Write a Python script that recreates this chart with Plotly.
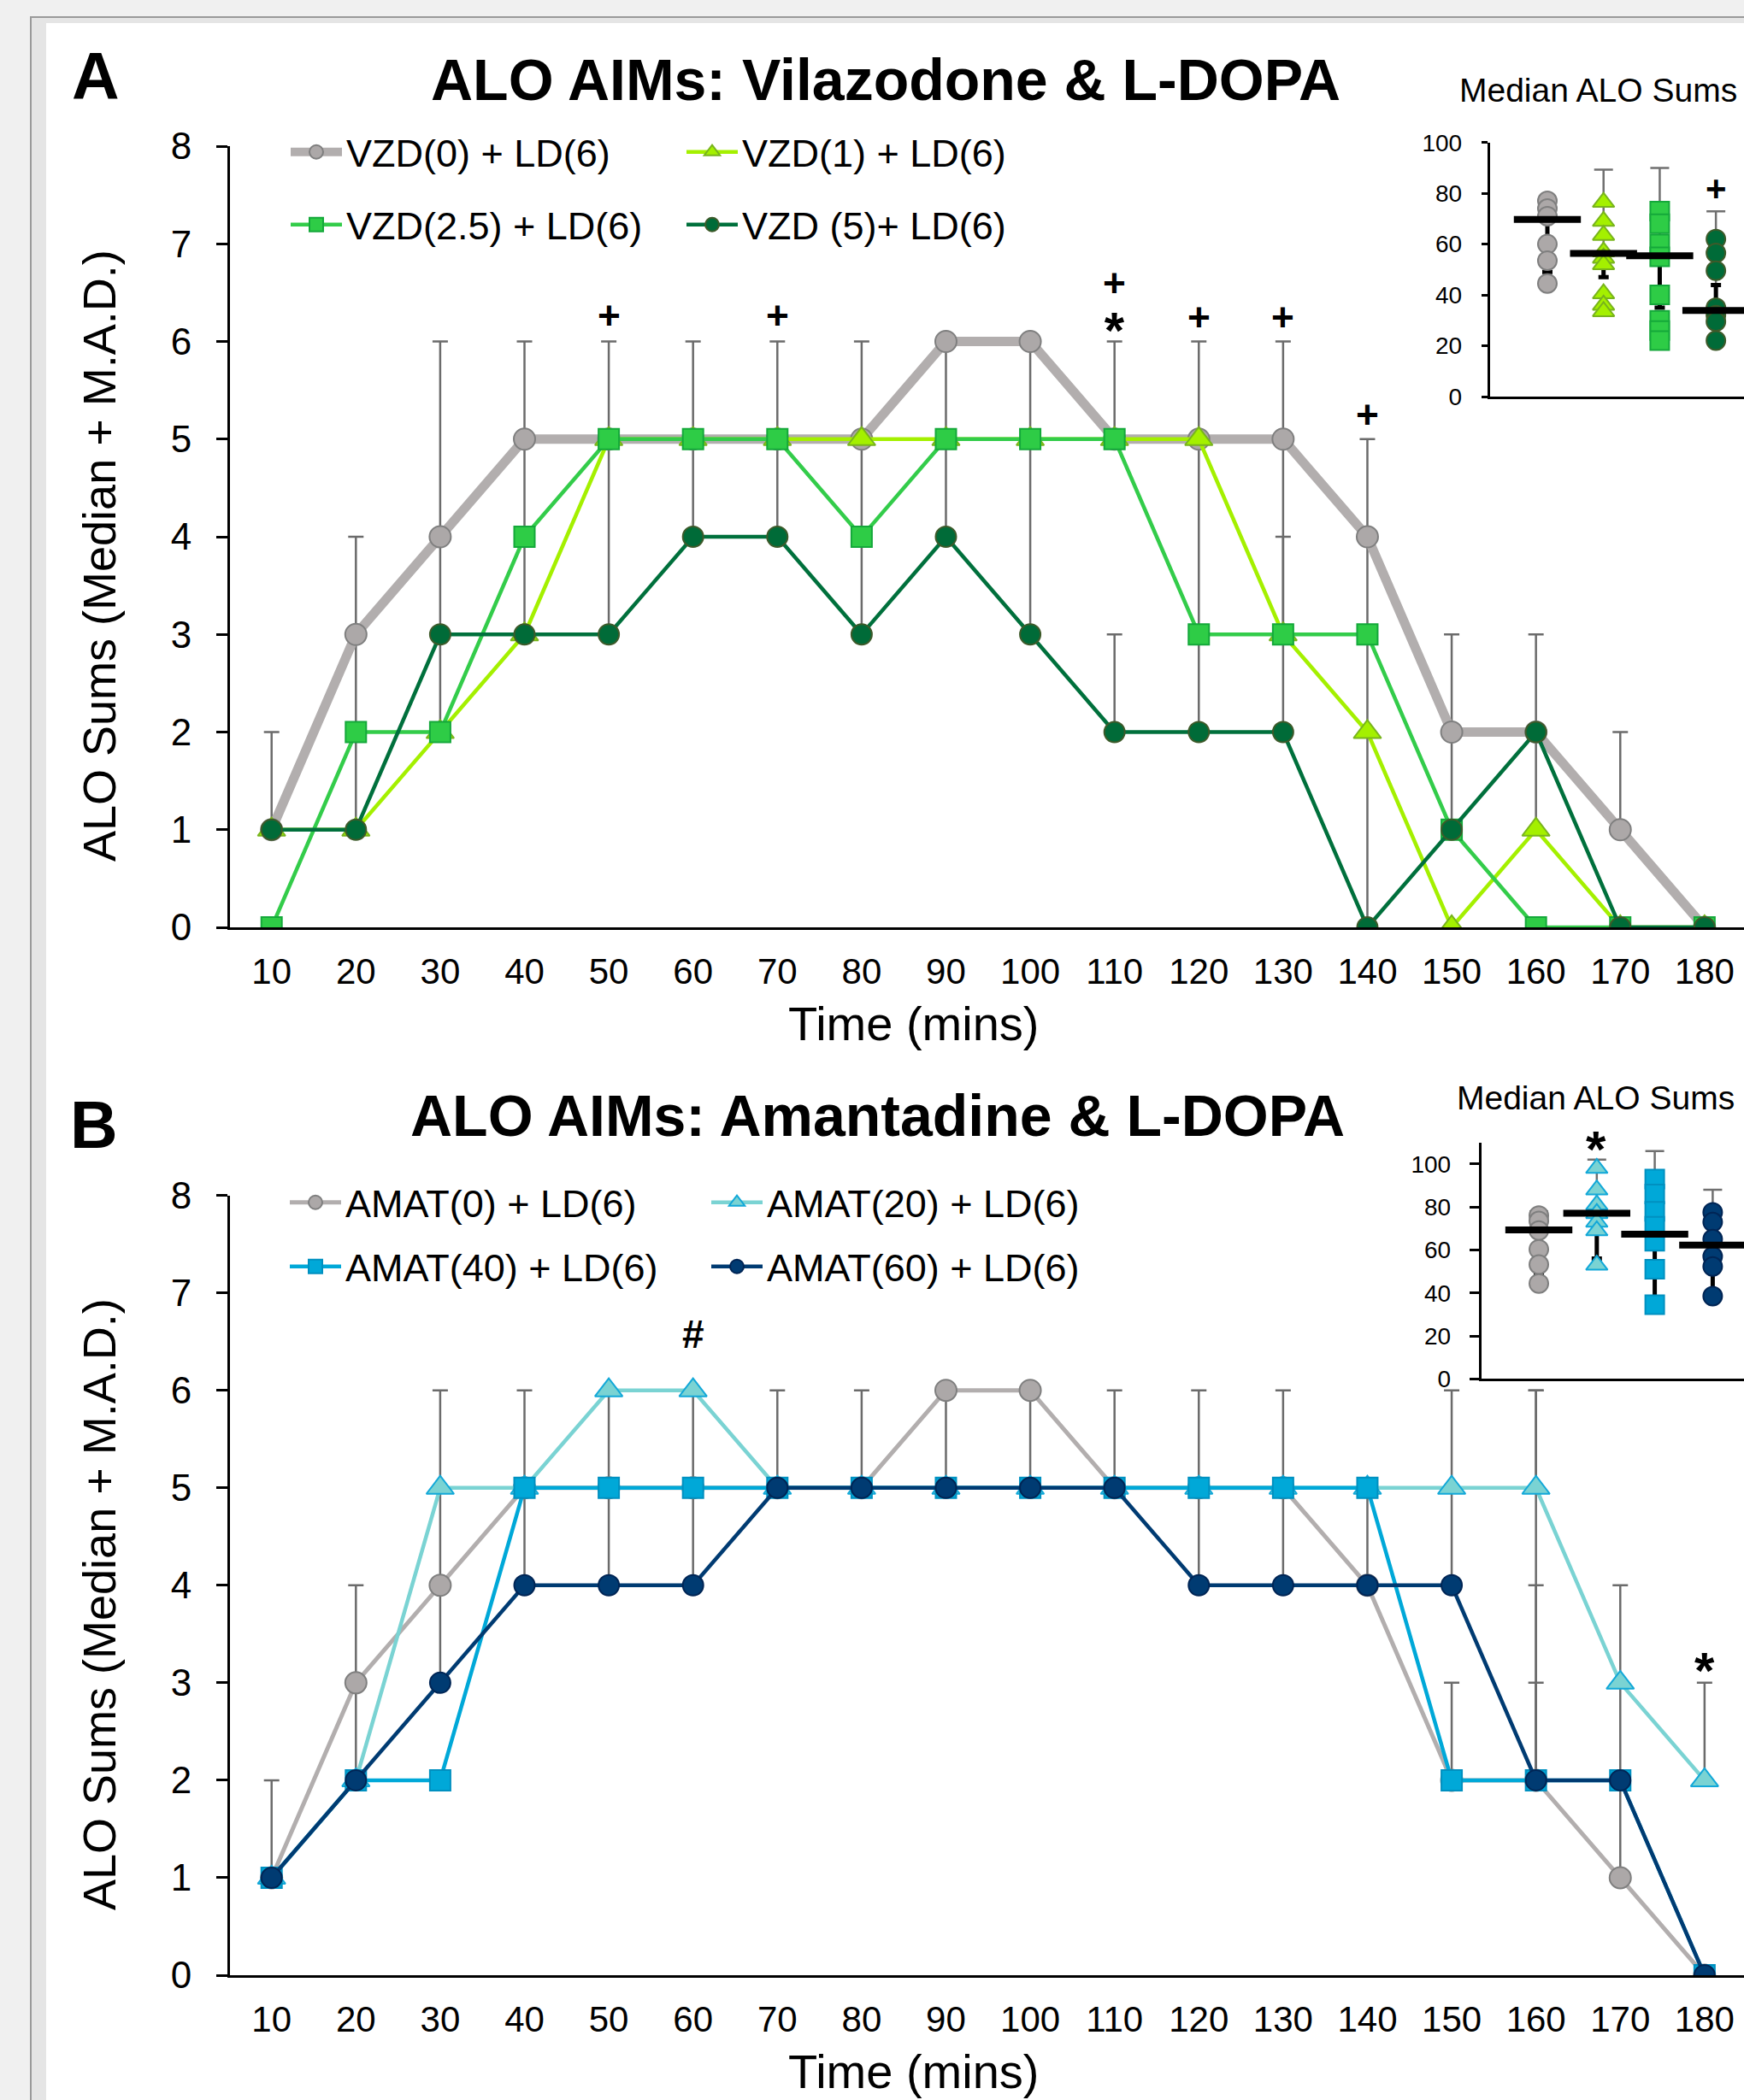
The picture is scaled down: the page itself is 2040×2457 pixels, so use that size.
import plotly.graph_objects as go

W, H = 2040, 2457
FONT = "Liberation Sans, Arial, Helvetica, sans-serif"

# ---------------- data ----------------
times = [10, 20, 30, 40, 50, 60, 70, 80, 90, 100, 110, 120, 130, 140, 150, 160, 170, 180]

vzd0 = [1, 3, 4, 5, 5, 5, 5, 5, 6, 6, 5, 5, 5, 4, 2, 2, 1, 0]
vzd1 = [1, 1, 2, 3, 5, 5, 5, 5, 5, 5, 5, 5, 3, 2, 0, 1, 0, 0]
vzd25 = [0, 2, 2, 4, 5, 5, 5, 4, 5, 5, 5, 3, 3, 3, 1, 0, 0, 0]
vzd5 = [1, 1, 3, 3, 3, 4, 4, 3, 4, 3, 2, 2, 2, 0, 1, 2, 0, 0]

vzd0_mad = [1, 0, 0, 0, 0, 0, 0, 0, 0, 0, 0, 0, 0, 0, 0, 0, 1, 0]
vzd1_mad = [0, 0, 0, 0, 0, 0, 0, 0, 0, 0, 0, 0, 1, 0, 0, 2, 0, 0]
vzd25_mad = [0, 0, 4, 0, 0, 0, 0, 0, 0, 0, 1, 0, 0, 0, 0, 0, 0, 0]
vzd5_mad = [0, 3, 0, 3, 3, 2, 2, 3, 2, 3, 1, 4, 4, 5, 2, 0, 0, 0]

amat0 = [1, 3, 4, 5, 5, 5, 5, 5, 6, 6, 5, 5, 5, 4, 2, 2, 1, 0]
amat20 = [1, 2, 5, 5, 6, 6, 5, 5, 5, 5, 5, 5, 5, 5, 5, 5, 3, 2]
amat40 = [1, 2, 2, 5, 5, 5, 5, 5, 5, 5, 5, 5, 5, 5, 2, 2, 2, 0]
amat60 = [1, 2, 3, 4, 4, 4, 5, 5, 5, 5, 5, 4, 4, 4, 4, 2, 2, 0]

amat0_mad = [1, 0, 0, 0, 0, 0, 0, 0, 0, 0, 0, 0, 0, 0, 0, 2, 3, 0]
amat20_mad = [0, 0, 0, 0, 0, 0, 0, 0, 0, 0, 0, 0, 0, 0, 0, 1, 0, 1]
amat40_mad = [0, 0, 0, 0, 0, 0, 0, 0, 0, 0, 0, 0, 0, 0, 1, 1, 0, 0]
amat60_mad = [0, 2, 3, 2, 2, 2, 1, 1, 1, 1, 1, 2, 2, 1, 2, 4, 0, 0]

vzd_names = ["VZD(0) + LD(6)", "VZD(1) + LD(6)", "VZD(2.5) + LD(6)", "VZD (5)+ LD(6)"]
amat_names = ["AMAT(0) + LD(6)", "AMAT(20) + LD(6)", "AMAT(40) + LD(6)", "AMAT(60) + LD(6)"]

# significance marks (time, label, level)
sig_a = [(50, "+", 6.27), (70, "+", 6.27), (110, "+*", 6.32),
         (120, "+", 6.25), (130, "+", 6.25), (140, "+", 5.25)]
sig_b = [(60, "#", 6.58), (180, "*", 3.25)]

# inset data (Median ALO Sums)
inset_groups = [1, 2, 3, 4]
inset_a_vzd0 = [77, 74, 71, 60, 53.5, 44.5]
inset_a_vzd1 = [76.5, 69, 63.5, 57, 54.5, 52, 40.5, 36, 33.5]
inset_a_vzd25 = [73, 68, 60, 55, 40, 30, 26, 22]
inset_a_vzd5 = [62, 56.5, 49.5, 35, 32, 29.5, 22]
inset_a_median = [69.7, 56.3, 55.4, 33.9]
inset_a_gray_up = [8.3, 33, 34.6, 39]
inset_a_black_up = [0, 0, 0, 10]
inset_a_black_down = [20.7, 9.3, 20.4, 0]

inset_b_amat0 = [76, 73.5, 69, 60.3, 53.2, 44.4]
inset_b_amat20 = [98, 88, 81, 77, 73, 69, 53]
inset_b_amat40 = [93, 86, 78, 71, 64, 51, 34.5]
inset_b_amat60 = [77.5, 73, 65, 57, 52.3, 38.5]
inset_b_median = [69.3, 77.1, 67.3, 62.3]
inset_b_gray_up = [8.7, 24.9, 38.7, 25.7]
inset_b_black_up = [0, 4, 0, 0]
inset_b_black_down = [20.3, 21.1, 32.8, 23.8]

# ---------------- styles ----------------
styles_a = [
    dict(lc="#b2aeae", lw=11, sym="circle", mc="#aca8a8", ml="#7f7f7f", ms=25),
    dict(lc="#a4f000", lw=4.5, sym="triangle-up", mc="#a4f000", ml="#78b41c", ms=28),
    dict(lc="#33cc4a", lw=4.5, sym="square", mc="#2ecc46", ml="#14a83a", ms=24),
    dict(lc="#00703c", lw=4.5, sym="circle", mc="#006b38", ml="#3d5a2a", ms=24),
]
styles_b = [
    dict(lc="#b2aeae", lw=5, sym="circle", mc="#aca8a8", ml="#7f7f7f", ms=25),
    dict(lc="#7ad3d3", lw=4.5, sym="triangle-up", mc="#7ad3d3", ml="#12a8d8", ms=28),
    dict(lc="#00a8d8", lw=4.5, sym="square", mc="#00a8d8", ml="#0090c0", ms=24),
    dict(lc="#003b72", lw=4.5, sym="circle", mc="#003b72", ml="#002555", ms=24),
]

fig = go.Figure()


def err_trace(xs, ys, up, down, xa, ya, color, thick, width):
    pts = [(x, y, u, d) for x, y, u, d in zip(xs, ys, up, down) if (u > 0 or d > 0)]
    if not pts:
        return
    fig.add_trace(go.Scatter(
        x=[p[0] for p in pts], y=[p[1] for p in pts], mode="markers",
        marker=dict(size=1, opacity=0), xaxis=xa, yaxis=ya, showlegend=False, hoverinfo="skip",
        error_y=dict(type="data", symmetric=False, array=[p[2] for p in pts],
                     arrayminus=[p[3] for p in pts], color=color, thickness=thick, width=width)))


# main panel error bars (behind lines)
for ys, mad in [(vzd0, vzd0_mad), (vzd1, vzd1_mad), (vzd25, vzd25_mad), (vzd5, vzd5_mad)]:
    err_trace(times, ys, mad, [0] * len(mad), "x", "y", "#6b6b6b", 2.5, 9)
for ys, mad in [(amat0, amat0_mad), (amat20, amat20_mad), (amat40, amat40_mad), (amat60, amat60_mad)]:
    err_trace(times, ys, mad, [0] * len(mad), "x2", "y2", "#6b6b6b", 2.5, 9)

legends_a = ["legend", "legend", "legend2", "legend2"]
legends_b = ["legend3", "legend3", "legend4", "legend4"]

for ys, name, st, lg in zip([vzd0, vzd1, vzd25, vzd5], vzd_names, styles_a, legends_a):
    fig.add_trace(go.Scatter(
        x=times, y=ys, name=name, mode="lines+markers", xaxis="x", yaxis="y", legend=lg,
        line=dict(color=st["lc"], width=st["lw"]),
        marker=dict(symbol=st["sym"], size=st["ms"], color=st["mc"], line=dict(color=st["ml"], width=2))))

for ys, name, st, lg in zip([amat0, amat20, amat40, amat60], amat_names, styles_b, legends_b):
    fig.add_trace(go.Scatter(
        x=times, y=ys, name=name, mode="lines+markers", xaxis="x2", yaxis="y2", legend=lg,
        line=dict(color=st["lc"], width=st["lw"]),
        marker=dict(symbol=st["sym"], size=st["ms"], color=st["mc"], line=dict(color=st["ml"], width=2))))


# insets
def inset(point_sets, styles, median, gray_up, black_up, black_down, xa, ya):
    err_trace(inset_groups, median, gray_up, [0] * 4, xa, ya, "#707070", 2.5, 11)
    err_trace(inset_groups, median, black_up, black_down, xa, ya, "#000000", 5, 6)
    for g, pts, st in zip(inset_groups, point_sets, styles):
        fig.add_trace(go.Scatter(
            x=[g] * len(pts), y=pts, mode="markers", xaxis=xa, yaxis=ya, showlegend=False,
            marker=dict(symbol=st["sym"], size=22, color=st["mc"], line=dict(color=st["ml"], width=2))))
    fig.add_trace(go.Scatter(
        x=inset_groups, y=median, mode="markers", xaxis=xa, yaxis=ya, showlegend=False,
        marker=dict(symbol="line-ew", size=56, color="black", line=dict(color="black", width=8))))


inset([inset_a_vzd0, inset_a_vzd1, inset_a_vzd25, inset_a_vzd5], styles_a, inset_a_median,
      inset_a_gray_up, inset_a_black_up, inset_a_black_down, "x3", "y3")
inset([inset_b_amat0, inset_b_amat20, inset_b_amat40, inset_b_amat60], styles_b, inset_b_median,
      inset_b_gray_up, inset_b_black_up, inset_b_black_down, "x4", "y4")


def px(x):
    return x / W


def py(y):
    return 1 - y / H


# ---------------- axes ----------------
main_x = dict(range=[5.06, 184.68], showline=True, linecolor="black", linewidth=3, ticks="",
              tickvals=times, tickfont=dict(size=42, color="black", family=FONT),
              showgrid=False, zeroline=False, ticklabelstandoff=13, fixedrange=True)
main_y = dict(range=[0, 8], showline=True, linecolor="black", linewidth=3, ticks="outside",
              ticklen=13, tickwidth=2.5, tickcolor="black", tickvals=list(range(9)),
              tickfont=dict(size=44, color="black", family=FONT), showgrid=False, zeroline=False,
              ticklabelstandoff=20)
ins_x = dict(showline=True, linecolor="black", linewidth=3, ticks="", showticklabels=False,
             showgrid=False, zeroline=False)
ins_y = dict(showline=True, linecolor="black", linewidth=3, ticks="outside", tickcolor="black",
             tickwidth=2.5, tickvals=[0, 20, 40, 60, 80, 100],
             tickfont=dict(size=28, color="black", family=FONT), showgrid=False, zeroline=False)

fig.update_layout(
    xaxis=dict(main_x, domain=[px(269), 1], anchor="y"),
    yaxis=dict(main_y, domain=[py(1085), py(171)], anchor="x"),
    xaxis2=dict(main_x, domain=[px(269), 1], anchor="y2"),
    yaxis2=dict(main_y, domain=[py(2311), py(1398.6)], anchor="x2"),
    xaxis3=dict(ins_x, domain=[px(1742.7), 1], range=[-0.024, 4.5], anchor="y3"),
    yaxis3=dict(ins_y, domain=[py(464), py(166.7)], range=[0, 100], anchor="x3", ticklen=7,
                ticklabelstandoff=17),
    xaxis4=dict(ins_x, domain=[px(1732.7), 1], range=[0.007, 4.54], anchor="y4"),
    yaxis4=dict(ins_y, domain=[py(1613.3), py(1336.7)], range=[0, 110], anchor="x4", ticklen=11,
                ticklabelstandoff=16),
)

# legends: one per row
leg_common = dict(orientation="h", xanchor="left", yanchor="middle", bgcolor="rgba(0,0,0,0)",
                  font=dict(size=45, color="black", family=FONT), itemwidth=60, borderwidth=0,
                  traceorder="normal", entrywidthmode="pixels")
fig.update_layout(
    legend=dict(leg_common, x=px(335), y=py(178), entrywidth=388),
    legend2=dict(leg_common, x=px(335), y=py(263), entrywidth=388),
    legend3=dict(leg_common, x=px(334), y=py(1407), entrywidth=418),
    legend4=dict(leg_common, x=px(334), y=py(1482), entrywidth=418),
)

# ---------------- text ----------------
ann = []


def text(x, y, s, size, bold=False, angle=0, xref="paper", yref="paper", yshift=0):
    ann.append(dict(x=x, y=y, xref=xref, yref=yref, text=s, showarrow=False, textangle=angle,
                    xanchor="center", yanchor="middle", yshift=yshift,
                    font=dict(size=size, color="black", family=FONT, weight="bold" if bold else "normal")))


text(px(111.6), py(89.5), "A", 77, bold=True)
text(px(110), py(1315.5), "B", 77, bold=True)
text(px(1036), py(92.5), "ALO AIMs: Vilazodone &amp; L-DOPA", 68, bold=True)
text(px(1026), py(1305), "ALO AIMs: Amantadine &amp; L-DOPA", 68, bold=True)
text(px(116), py(650), "ALO Sums (Median + M.A.D.)", 54, angle=-90)
text(px(116), py(1877), "ALO Sums (Median + M.A.D.)", 54, angle=-90)
text(px(1068), py(1197), "Time (mins)", 56)
text(px(1068), py(2423), "Time (mins)", 56)
text(px(1869), py(105.8), "Median ALO Sums", 39)
text(px(1866), py(1284), "Median ALO Sums", 39)

for t, s, lvl in sig_a:
    if s == "+*":
        text(t, lvl, "+<br><span style='font-size:60px'>*</span>", 46, bold=True, xref="x", yref="y")
    else:
        text(t, lvl, s, 46, bold=True, xref="x", yref="y")
for t, s, lvl in sig_b:
    if s == "*":
        text(t, lvl, s, 60, bold=True, xref="x2", yref="y2", yshift=-14)
    else:
        text(t, lvl, s, 46, bold=True, xref="x2", yref="y2")
text(4, 82, "+", 42, bold=True, xref="x3", yref="y3")
# inset B asterisk sits above the inset's axis range, so place it in paper coordinates
text(px(1866.7), py(1330), "*", 60, bold=True, yshift=-14)

# ---------------- frame ----------------
shapes = [
    dict(type="rect", xref="paper", yref="paper", x0=px(36), x1=px(2100), y0=py(2600), y1=py(20),
         fillcolor="#e5e5e5", line=dict(color="#9a9a9a", width=2), layer="below"),
    dict(type="rect", xref="paper", yref="paper", x0=px(54), x1=px(2100), y0=py(2600), y1=py(27),
         fillcolor="white", line=dict(width=0), layer="below"),
]

fig.update_layout(
    width=W, height=H, autosize=False,
    margin=dict(l=0, r=0, t=0, b=0, pad=0, autoexpand=False),
    paper_bgcolor="#f0f0f0", plot_bgcolor="rgba(0,0,0,0)",
    font=dict(family=FONT, color="black"),
    annotations=ann, shapes=shapes, hovermode=False,
)

fig.write_html("out.html", config={"displayModeBar": False},
               post_script="document.body.style.margin='0';document.body.style.overflow='hidden';")
